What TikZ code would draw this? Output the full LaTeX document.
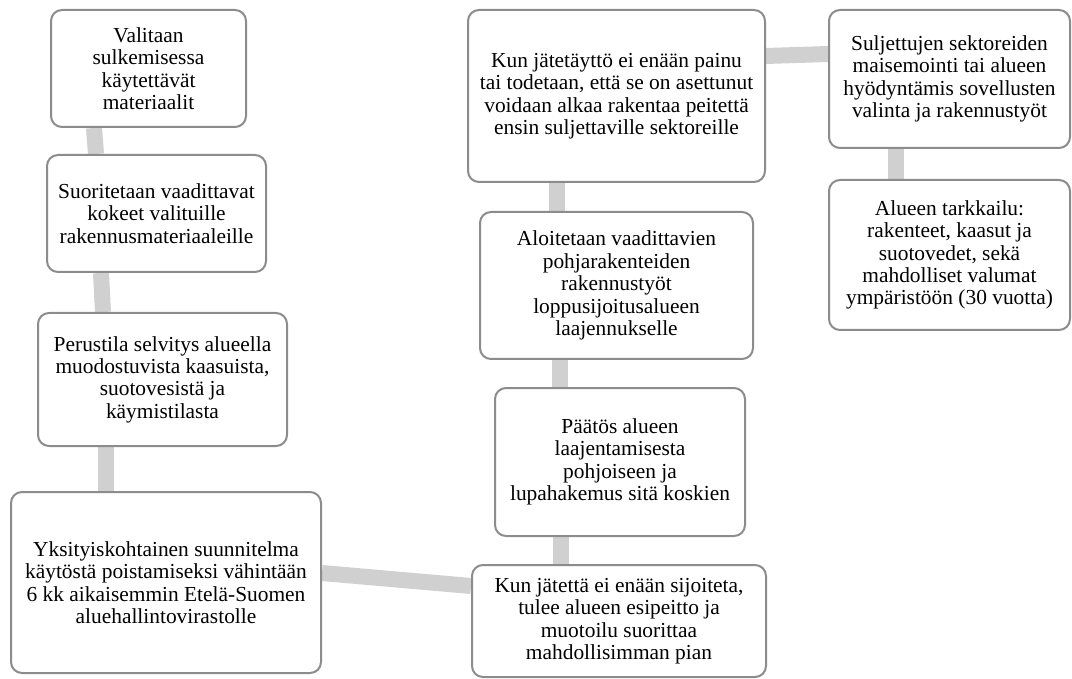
\documentclass[tikz,border=0pt]{standalone}
\usepackage{fontspec}
\setmainfont{Liberation Serif}
\usetikzlibrary{backgrounds}
\definecolor{boxline}{HTML}{8C8C8C}
\definecolor{conn}{HTML}{D0D0D0}
\tikzset{
  stepbox/.style={draw=boxline, line width=2pt, fill=white, rounded corners=11pt,
    align=center, inner sep=0pt, font=\fontsize{21.4pt}{22.4pt}\selectfont},
  link/.style={draw=conn, line width=16pt, line cap=butt}
}
\begin{document}
\begin{tikzpicture}[x=1pt,y=-1pt]
\useasboundingbox (0,0) rectangle (1072,679);
\node[stepbox, minimum width=195pt, minimum height=117pt] (b1) at (148.5,68.5)
  {Valitaan\\sulkemisessa\\käytettävät\\materiaalit};
\node[stepbox, minimum width=219pt, minimum height=117pt] (b2) at (156.5,213.5)
  {Suoritetaan vaadittavat\\kokeet valituille\\rakennusmateriaaleille};
\node[stepbox, minimum width=249pt, minimum height=133pt] (b3) at (162.5,379.5)
  {Perustila selvitys alueella\\muodostuvista kaasuista,\\suotovesistä ja\\käymistilasta};
\node[stepbox, minimum width=310pt, minimum height=181pt] (b4) at (166,582.5)
  {Yksityiskohtainen suunnitelma\\käytöstä poistamiseksi vähintään\\6 kk aikaisemmin Etelä-Suomen\\aluehallintovirastolle};
\node[stepbox, minimum width=294pt, minimum height=112pt] (b5) at (619,621)
  {Kun jätettä ei enään sijoiteta,\\tulee alueen esipeitto ja\\muotoilu suorittaa\\mahdollisimman pian};
\node[stepbox, minimum width=250pt, minimum height=148pt] (b6) at (620,462)
  {Päätös alueen\\laajentamisesta\\pohjoiseen ja\\lupahakemus sitä koskien};
\node[stepbox, minimum width=273pt, minimum height=147pt] (b7) at (616.5,285.5)
  {Aloitetaan vaadittavien\\pohjarakenteiden\\rakennustyöt\\loppusijoitusalueen\\laajennukselle};
\node[stepbox, minimum width=297pt, minimum height=172pt] (b8) at (616.5,96)
  {Kun jätetäyttö ei enään painu\\tai todetaan, että se on asettunut\\voidaan alkaa rakentaa peitettä\\ensin suljettaville sektoreille};
\node[stepbox, minimum width=241pt, minimum height=138pt] (b9) at (949.5,79)
  {Suljettujen sektoreiden\\maisemointi tai alueen\\hyödyntämis sovellusten\\valinta ja rakennustyöt};
\node[stepbox, minimum width=241pt, minimum height=150pt] (b10) at (949.5,255)
  {Alueen tarkkailu:\\rakenteet, kaasut ja\\suotovedet, sekä\\mahdolliset valumat\\ympäristöön (30 vuotta)};
\begin{scope}[on background layer]
\draw[link] ([xshift=44pt]b1.south west) -- ([xshift=50pt]b2.north west);
\draw[link] ([xshift=55pt]b2.south west) -- ([xshift=66pt]b3.north west);
\draw[link] ([xshift=69pt]b3.south west) -- ([xshift=96pt]b4.north west);
\draw[link] ([yshift=9.5pt]b4.east) -- ([yshift=35pt]b5.west);
\draw[link] ([xshift=90pt]b5.north west) -- ([xshift=67pt]b6.south west);
\draw[link] ([xshift=66pt]b6.north west) -- ([xshift=81pt]b7.south west);
\draw[link] ([xshift=78pt]b7.north west) -- ([xshift=90pt]b8.south west);
\draw[link] ([yshift=40pt]b8.east) -- ([yshift=25pt]b9.west);
\draw[link] ([xshift=68pt]b9.south west) -- ([xshift=68pt]b10.north west);
\end{scope}
\end{tikzpicture}
\end{document}
